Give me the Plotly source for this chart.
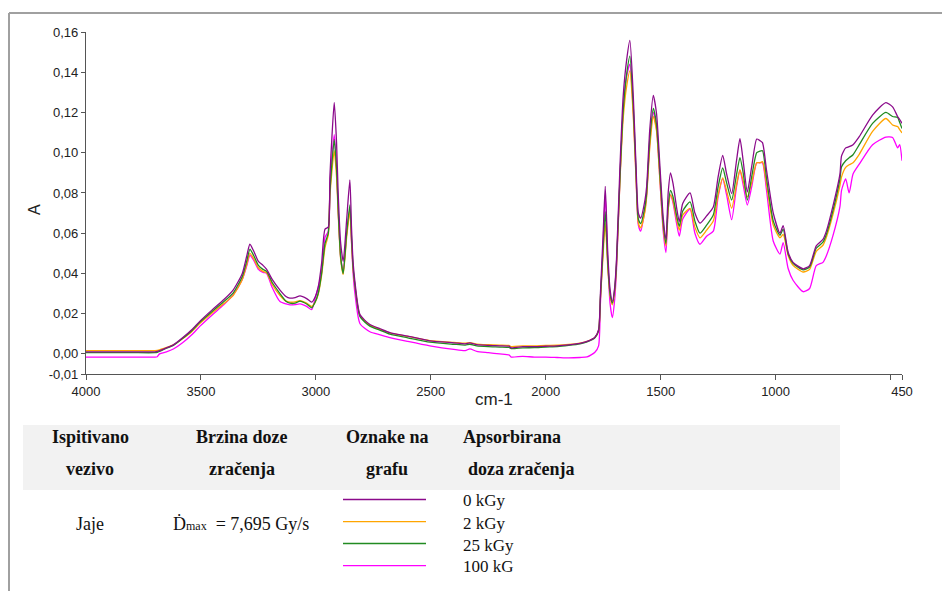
import plotly.graph_objects as go

# ---------------- data ----------------
wavenumber = [4000, 3900, 3800, 3700, 3690, 3680, 3650, 3620, 3580, 3540, 3504, 3450, 3400, 3360, 3320, 3300,
              3287, 3270, 3250, 3230, 3214, 3190, 3156, 3130, 3113, 3090, 3069, 3040, 3018, 3004, 2990, 2975,
              2960, 2946, 2939, 2930, 2920, 2910, 2903, 2892, 2881, 2866, 2852, 2845, 2838, 2830, 2808, 2765,
              2720, 2678, 2600, 2504, 2400, 2350, 2330, 2300, 2250, 2200, 2160, 2150, 2100, 2050, 2000, 1950,
              1900, 1851, 1820, 1786, 1770, 1762, 1750, 1741, 1730, 1720, 1710, 1700, 1692, 1677, 1663, 1648,
              1634, 1619, 1607, 1597, 1587, 1568, 1561, 1547, 1532, 1518, 1503, 1489, 1477, 1467, 1457, 1446,
              1431, 1419, 1404, 1372, 1351, 1329, 1300, 1271, 1250, 1230, 1213, 1191, 1170, 1155, 1141, 1123,
              1104, 1082, 1068, 1057, 1039, 1010, 981, 967, 945, 924, 880, 852, 823, 794, 779, 751,
              720, 713, 695, 680, 663, 636, 578, 520, 491, 469, 460, 450]

a_0kGy = [0.0010, 0.0010, 0.0010, 0.0010, 0.0012, 0.0016, 0.0030, 0.0045, 0.0080, 0.0120, 0.0163, 0.0220, 0.0270, 0.0317, 0.0400, 0.0490,
          0.0545, 0.0510, 0.0460, 0.0440, 0.0420, 0.0370, 0.0317, 0.0285, 0.0277, 0.0280, 0.0288, 0.0275, 0.0257, 0.0280, 0.0330, 0.0450,
          0.0620, 0.0630, 0.0880, 0.1080, 0.1250, 0.1050, 0.0800, 0.0550, 0.0460, 0.0667, 0.0865, 0.0630, 0.0455, 0.0358, 0.0195, 0.0146,
          0.0125, 0.0106, 0.0088, 0.0065, 0.0055, 0.0050, 0.0055, 0.0046, 0.0042, 0.0040, 0.0038, 0.0030, 0.0036, 0.0036, 0.0038, 0.0040,
          0.0045, 0.0052, 0.0062, 0.0083, 0.0120, 0.0300, 0.0600, 0.0833, 0.0500, 0.0320, 0.0260, 0.0330, 0.0470, 0.0930, 0.1280, 0.1460,
          0.1558, 0.1280, 0.0930, 0.0700, 0.0675, 0.0766, 0.0830, 0.1120, 0.1285, 0.1195, 0.0930, 0.0680, 0.0570, 0.0805, 0.0900, 0.0846,
          0.0730, 0.0658, 0.0748, 0.0800, 0.0700, 0.0650, 0.0686, 0.0730, 0.0880, 0.0987, 0.0895, 0.0797, 0.0960, 0.1070, 0.0960, 0.0805,
          0.0930, 0.1068, 0.1060, 0.1050, 0.0910, 0.0700, 0.0600, 0.0637, 0.0504, 0.0455, 0.0423, 0.0439, 0.0537, 0.0569, 0.0610, 0.0732,
          0.0894, 0.0984, 0.1024, 0.1030, 0.1040, 0.1080, 0.1187, 0.1249, 0.1228, 0.1180, 0.1165, 0.1146]

a_2kGy = [0.0016, 0.0016, 0.0016, 0.0016, 0.0017, 0.0020, 0.0032, 0.0045, 0.0075, 0.0110, 0.0152, 0.0205, 0.0250, 0.0290, 0.0370, 0.0448,
          0.0500, 0.0472, 0.0428, 0.0410, 0.0403, 0.0345, 0.0290, 0.0262, 0.0257, 0.0258, 0.0264, 0.0252, 0.0236, 0.0255, 0.0295, 0.0390,
          0.0530, 0.0590, 0.0780, 0.0910, 0.1010, 0.0880, 0.0700, 0.0470, 0.0395, 0.0580, 0.0707, 0.0560, 0.0420, 0.0340, 0.0190, 0.0143,
          0.0122, 0.0104, 0.0087, 0.0066, 0.0057, 0.0053, 0.0056, 0.0049, 0.0046, 0.0044, 0.0042, 0.0036, 0.0040, 0.0040, 0.0042, 0.0043,
          0.0047, 0.0054, 0.0062, 0.0082, 0.0115, 0.0270, 0.0500, 0.0650, 0.0430, 0.0290, 0.0244, 0.0310, 0.0440, 0.0860, 0.1170, 0.1330,
          0.1407, 0.1180, 0.0870, 0.0650, 0.0626, 0.0710, 0.0780, 0.1030, 0.1180, 0.1110, 0.0860, 0.0630, 0.0537, 0.0720, 0.0790, 0.0760,
          0.0670, 0.0615, 0.0690, 0.0723, 0.0630, 0.0577, 0.0615, 0.0660, 0.0790, 0.0875, 0.0810, 0.0724, 0.0840, 0.0914, 0.0860, 0.0780,
          0.0850, 0.0950, 0.0950, 0.0956, 0.0840, 0.0640, 0.0577, 0.0594, 0.0488, 0.0440, 0.0407, 0.0420, 0.0510, 0.0540, 0.0580, 0.0690,
          0.0837, 0.0880, 0.0927, 0.0940, 0.0950, 0.0992, 0.1106, 0.1170, 0.1138, 0.1130, 0.1115, 0.1098]

a_25kGy = [0.0006, 0.0006, 0.0006, 0.0006, 0.0008, 0.0012, 0.0028, 0.0042, 0.0076, 0.0115, 0.0158, 0.0212, 0.0260, 0.0302, 0.0385, 0.0465,
           0.0520, 0.0488, 0.0440, 0.0420, 0.0410, 0.0355, 0.0300, 0.0262, 0.0252, 0.0252, 0.0262, 0.0248, 0.0229, 0.0255, 0.0300, 0.0400,
           0.0550, 0.0600, 0.0800, 0.0950, 0.1065, 0.0920, 0.0720, 0.0480, 0.0400, 0.0600, 0.0740, 0.0580, 0.0430, 0.0340, 0.0185, 0.0138,
           0.0117, 0.0098, 0.0080, 0.0058, 0.0048, 0.0044, 0.0048, 0.0040, 0.0036, 0.0034, 0.0032, 0.0026, 0.0030, 0.0031, 0.0034, 0.0036,
           0.0042, 0.0050, 0.0060, 0.0080, 0.0115, 0.0280, 0.0530, 0.0707, 0.0450, 0.0300, 0.0252, 0.0320, 0.0450, 0.0880, 0.1210, 0.1390,
           0.1480, 0.1230, 0.0900, 0.0670, 0.0648, 0.0735, 0.0800, 0.1070, 0.1220, 0.1140, 0.0890, 0.0650, 0.0550, 0.0740, 0.0813, 0.0780,
           0.0690, 0.0634, 0.0710, 0.0756, 0.0660, 0.0600, 0.0640, 0.0690, 0.0830, 0.0924, 0.0850, 0.0765, 0.0890, 0.0976, 0.0900, 0.0765,
           0.0880, 0.1000, 0.1008, 0.1010, 0.0870, 0.0660, 0.0590, 0.0620, 0.0495, 0.0450, 0.0418, 0.0432, 0.0525, 0.0555, 0.0595, 0.0710,
           0.0870, 0.0930, 0.0960, 0.0975, 0.0990, 0.1040, 0.1146, 0.1200, 0.1180, 0.1175, 0.1150, 0.1120]

a_100kGy = [-0.0016, -0.0016, -0.0016, -0.0016, -0.0014, 0.0000, 0.0010, 0.0024, 0.0055, 0.0095, 0.0138, 0.0195, 0.0245, 0.0293, 0.0370, 0.0440,
            0.0490, 0.0465, 0.0420, 0.0405, 0.0400, 0.0330, 0.0260, 0.0248, 0.0244, 0.0245, 0.0249, 0.0236, 0.0220, 0.0273, 0.0330, 0.0407,
            0.0580, 0.0610, 0.0820, 0.0980, 0.1090, 0.0930, 0.0720, 0.0480, 0.0410, 0.0600, 0.0720, 0.0560, 0.0400, 0.0300, 0.0150, 0.0110,
            0.0095, 0.0081, 0.0062, 0.0040, 0.0022, 0.0016, 0.0025, 0.0012, 0.0006, 0.0000, -0.0005, -0.0016, -0.0012, -0.0016, -0.0016, -0.0018,
            -0.0020, -0.0018, -0.0015, 0.0008, 0.0040, 0.0250, 0.0560, 0.0790, 0.0460, 0.0250, 0.0180, 0.0270, 0.0420, 0.0870, 0.1210, 0.1380,
            0.1440, 0.1200, 0.0880, 0.0640, 0.0610, 0.0720, 0.0790, 0.1050, 0.1200, 0.1120, 0.0860, 0.0610, 0.0504, 0.0720, 0.0790, 0.0750,
            0.0650, 0.0585, 0.0670, 0.0720, 0.0600, 0.0545, 0.0585, 0.0610, 0.0780, 0.0870, 0.0790, 0.0667, 0.0830, 0.0914, 0.0840, 0.0740,
            0.0830, 0.0950, 0.0950, 0.0950, 0.0810, 0.0560, 0.0496, 0.0553, 0.0423, 0.0366, 0.0309, 0.0325, 0.0439, 0.0455, 0.0488, 0.0585,
            0.0732, 0.0813, 0.0870, 0.0800, 0.0894, 0.0943, 0.1040, 0.1078, 0.1076, 0.1024, 0.1040, 0.0960]

series_names = ["0 kGy", "2 kGy", "25 kGy", "100 kG"]
series_values = [a_0kGy, a_2kGy, a_25kGy, a_100kGy]
series_colors = ["#8B0A8B", "#FFA500", "#228B22", "#FF00FF"]

x_tickvals = [4000, 3500, 3000, 2500, 2000, 1500, 1000, 500, 450]
x_ticktext = ["4000", "3500", "3000", "2500", "2000", "1500", "1000", "", "450"]
y_tickvals = [-0.01, 0.0, 0.02, 0.04, 0.06, 0.08, 0.10, 0.12, 0.14, 0.16]
y_ticktext = ["-0,01", "0,00", "0,02", "0,04", "0,06", "0,08", "0,10", "0,12", "0,14", "0,16"]

# ---------------- layout geometry (pixels) ----------------
W, H = 942, 591
L, R, T, B = 86, 902, 32, 374


def px(x):
    return (x - L) / (R - L)


def py(y):
    return (B - y) / (B - T)


fig = go.Figure()
draw_order = [3, 1, 2, 0]
for i in draw_order:
    fig.add_trace(go.Scatter(x=wavenumber, y=series_values[i], mode="lines", name=series_names[i],
                             line=dict(color=series_colors[i], width=1.3, shape="spline", smoothing=0.6),
                             showlegend=False))

axis_color = "#555555"
fig.update_layout(
    width=W, height=H,
    margin=dict(l=L, r=W - R, t=T, b=H - B),
    paper_bgcolor="white", plot_bgcolor="white",
    font=dict(family="Liberation Sans, Arial", size=13, color="#222222"),
    xaxis=dict(range=[4000, 450], tickvals=x_tickvals, ticktext=x_ticktext, showgrid=False, zeroline=False,
               showline=True, linecolor=axis_color, linewidth=1.2, ticks="outside", ticklen=5,
               tickcolor=axis_color, tickfont=dict(size=13)),
    yaxis=dict(range=[-0.01, 0.16], tickvals=y_tickvals, ticktext=y_ticktext, showgrid=False, zeroline=False,
               showline=True, linecolor=axis_color, linewidth=1.2, ticks="outside", ticklen=4,
               tickcolor=axis_color, tickfont=dict(size=13)),
)

shapes = []
# outer frame (top & left)
shapes.append(dict(type="line", xref="paper", yref="paper", x0=px(9), x1=px(W + 5), y0=py(13), y1=py(13),
                   line=dict(color="#A0A0A0", width=2)))
shapes.append(dict(type="line", xref="paper", yref="paper", x0=px(9), x1=px(9), y0=py(13), y1=py(H + 5),
                   line=dict(color="#A0A0A0", width=2)))
# table header band
shapes.append(dict(type="rect", xref="paper", yref="paper", x0=px(23), x1=px(840), y0=py(425), y1=py(490),
                   line=dict(width=0), fillcolor="#F2F2F2", layer="below"))
# legend sample lines
legend_y = [499.5, 521.7, 543.5, 565.7]
for k in range(4):
    shapes.append(dict(type="line", xref="paper", yref="paper", x0=px(343), x1=px(426),
                       y0=py(legend_y[k]), y1=py(legend_y[k]),
                       line=dict(color=series_colors[k], width=1.3)))
fig.update_layout(shapes=shapes)

serif = "Liberation Serif, Times New Roman, serif"
ann = []


def add_text(text, x, y, xanchor="center", size=18, bold=False):
    ann.append(dict(text=("<b>%s</b>" % text) if bold else text, x=px(x), y=py(y), xref="paper", yref="paper",
                    xanchor=xanchor, yanchor="middle", showarrow=False,
                    font=dict(family=serif, size=size, color="#111111")))


add_text("Ispitivano", 90, 437, bold=True)
add_text("vezivo", 90, 469, bold=True)
add_text("Brzina doze", 242, 437, bold=True)
add_text("zračenja", 242, 469, bold=True)
add_text("Oznake na", 387, 437, bold=True)
add_text("grafu", 387, 469, bold=True)
add_text("Apsorbirana", 461, 437, xanchor="left", bold=True)
add_text("doza zračenja", 466, 469, xanchor="left", bold=True)
add_text("Jaje", 90, 524)
add_text("Ḋ<span style='font-size:12px'>max</span>  = 7,695 Gy/s", 171, 524, xanchor="left")
legend_label_y = [501, 523, 545, 566]
for k in range(4):
    add_text(series_names[k], 461, legend_label_y[k], xanchor="left", size=17)

# axis titles
ann.append(dict(text="cm-1", x=px(494), y=py(399), xref="paper", yref="paper", showarrow=False,
                xanchor="center", yanchor="middle", font=dict(family="Liberation Sans, Arial", size=17, color="#222222")))
ann.append(dict(text="A", x=px(34), y=py(210), xref="paper", yref="paper", showarrow=False, textangle=-90,
                xanchor="center", yanchor="middle", font=dict(family="Liberation Sans, Arial", size=16, color="#222222")))
fig.update_layout(annotations=ann)

fig.write_html("out.html", config={"displayModeBar": False},
               post_script="document.body.style.margin='0px';document.body.style.overflow='hidden';")
